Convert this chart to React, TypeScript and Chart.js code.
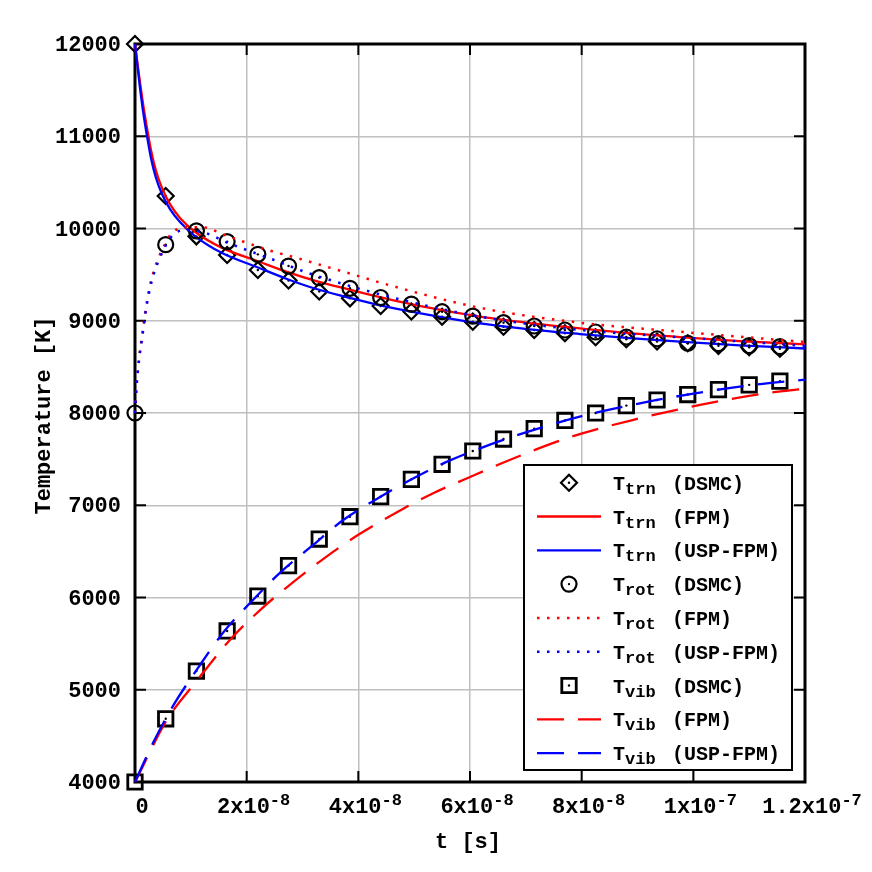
import React, { useEffect, useRef } from 'react';
import { Chart, registerables } from 'chart.js';

Chart.register(...registerables);

const MONO = "'Liberation Mono', 'Courier New', monospace";

// axis ticks
const xTicks = [0, 2e-8, 4e-8, 6e-8, 8e-8, 1e-7, 1.2e-7];
const xTickBase = ['0', '2x10', '4x10', '6x10', '8x10', '1x10', '1.2x10'];
const xTickSup = ['', '-8', '-8', '-8', '-8', '-7', '-7'];
const yTicks = [4000, 5000, 6000, 7000, 8000, 9000, 10000, 11000, 12000];

// DSMC samples
const tDsmc = [0, 5.5e-9, 1.1e-8, 1.65e-8, 2.2e-8, 2.75e-8, 3.3e-8, 3.85e-8, 4.4e-8, 4.95e-8, 5.5e-8, 6.05e-8, 6.6e-8, 7.15e-8, 7.7e-8, 8.25e-8, 8.8e-8, 9.35e-8, 9.9e-8, 1.045e-7, 1.1e-7, 1.155e-7];
const trnDsmc = [12000, 10352, 9915, 9713, 9550, 9436, 9318, 9243, 9160, 9100, 9044, 8990, 8935, 8900, 8864, 8821, 8800, 8775, 8756, 8728, 8712, 8697];
const rotDsmc = [8000, 9825, 9975, 9858, 9720, 9593, 9467, 9352, 9252, 9180, 9098, 9051, 8979, 8943, 8900, 8878, 8824, 8805, 8756, 8751, 8730, 8719];
const vibDsmc = [4000, 4685, 5203, 5637, 6016, 6345, 6634, 6876, 7093, 7281, 7444, 7588, 7718, 7830, 7919, 8000, 8080, 8141, 8200, 8254, 8305, 8346];

// T_trn curves
const tTrn = [0, 3.6e-10, 9.0e-10, 1.52e-9, 2.15e-9, 2.86e-9, 3.76e-9, 4.83e-9, 6.27e-9, 8.06e-9, 1.074e-8, 1.56e-8, 2.18e-8, 2.72e-8, 3.25e-8, 3.79e-8, 4.33e-8, 5.19e-8, 6.18e-8, 7.07e-8, 7.97e-8, 8.86e-8, 9.76e-8, 1.083e-7, 1.2e-7];
const trnFpm = [12000, 11830, 11580, 11320, 11090, 10850, 10625, 10440, 10265, 10115, 9965, 9790, 9650, 9530, 9430, 9345, 9265, 9150, 9044, 8975, 8918, 8865, 8823, 8780, 8745];
const trnUsp = [12000, 11805, 11523, 11241, 11003, 10764, 10547, 10374, 10211, 10070, 9918, 9734, 9583, 9453, 9344, 9257, 9176, 9073, 8972, 8907, 8856, 8811, 8773, 8734, 8699];

// T_rot curves
const tRotFpm = [0, 2.7e-10, 7.2e-10, 1.25e-9, 1.88e-9, 2.6e-9, 3.4e-9, 4.3e-9, 5.37e-9, 6.27e-9, 7.47e-9, 8.65e-9, 1.22e-8, 1.58e-8, 2.0e-8, 2.42e-8, 2.9e-8, 3.43e-8, 3.97e-8, 4.44e-8, 6.18e-8, 7.97e-8, 9.76e-8, 1.2e-7];
const rotFpm = [8000, 8290, 8590, 8830, 9110, 9360, 9545, 9695, 9830, 9925, 9990, 10013, 10013, 9935, 9845, 9760, 9680, 9586, 9490, 9405, 9140, 8979, 8881, 8770];
const tRotUsp = [0, 2.7e-10, 7.2e-10, 1.25e-9, 1.88e-9, 2.6e-9, 3.4e-9, 4.3e-9, 5.37e-9, 6.27e-9, 7.47e-9, 8.65e-9, 1.28e-8, 1.64e-8, 2.0e-8, 2.49e-8, 3.02e-8, 3.61e-8, 4.09e-8, 5.1e-8, 6.18e-8, 7.97e-8, 9.76e-8, 1.2e-7];
const rotUsp = [8000, 8280, 8570, 8800, 9080, 9330, 9515, 9660, 9800, 9893, 9960, 9983, 9947, 9850, 9767, 9659, 9535, 9420, 9335, 9180, 9044, 8900, 8821, 8728];

// T_vib curves
const tVibFpm = [0, 5.68e-9, 1.11e-8, 1.7e-8, 2.27e-8, 2.8e-8, 3.4e-8, 4.0e-8, 4.66e-8, 5.34e-8, 5.94e-8, 6.71e-8, 7.73e-8, 8.91e-8, 1.012e-7, 1.131e-7, 1.2e-7];
const vibFpm = [4000, 4670, 5100, 5540, 5880, 6150, 6430, 6680, 6914, 7130, 7290, 7490, 7726, 7924, 8087, 8214, 8262];
const tVibUsp = [0, 3.28e-9, 6.86e-9, 1.11e-8, 1.58e-8, 2.06e-8, 2.6e-8, 3.19e-8, 3.73e-8, 4.39e-8, 4.98e-8, 5.58e-8, 6.18e-8, 7.0e-8, 8.0e-8, 9.0e-8, 1.0e-7, 1.1e-7, 1.2e-7];
const vibUsp = [4000, 4430, 4830, 5220, 5620, 5940, 6270, 6570, 6840, 7090, 7290, 7470, 7617, 7790, 7965, 8100, 8210, 8300, 8362];

// legend text
const legendSub = ['trn', 'trn', 'trn', 'rot', 'rot', 'rot', 'vib', 'vib', 'vib'];
const legendSrc = ['(DSMC)', '(FPM)', '(USP-FPM)', '(DSMC)', '(FPM)', '(USP-FPM)', '(DSMC)', '(FPM)', '(USP-FPM)'];

const RED = '#ff0000';
const BLUE = '#0000ff';
const DOT = [2.5, 7.5];
const DASH = [27, 14];

const pts = (t: number[], v: number[]) => t.map((x, i) => ({ x, y: v[i] }));

type Kind = 'diamond' | 'circle' | 'square';
const MARKER: Record<number, Kind> = { 0: 'diamond', 3: 'circle', 6: 'square' };
const M_RADIUS: Record<Kind, number> = { diamond: 8, circle: 7.5, square: 10.2 };
const M_WIDTH: Record<Kind, number> = { diamond: 2.2, circle: 2.2, square: 2.8 };

function markerDs(t: number[], v: number[], kind: Kind, i: number) {
  const style = kind === 'diamond' ? 'rectRot' : kind === 'circle' ? 'circle' : 'rect';
  return {
    data: pts(t, v),
    showLine: false,
    pointStyle: style,
    pointRadius: M_RADIUS[kind],
    pointBorderWidth: M_WIDTH[kind],
    pointBorderColor: '#000',
    pointBackgroundColor: 'rgba(0,0,0,0)',
    clip: false as any,
    order: 8 - i,
  };
}

function lineDs(t: number[], v: number[], color: string, dash: number[], i: number) {
  return {
    data: pts(t, v),
    borderColor: color,
    borderWidth: dash === DOT ? 2.5 : 2.3,
    borderDash: dash,
    pointRadius: 0,
    fill: false,
    cubicInterpolationMode: 'monotone' as const,
    clip: false as any,
    order: 8 - i,
  };
}

function drawMarker(ctx: CanvasRenderingContext2D, kind: Kind, x: number, y: number) {
  ctx.save();
  ctx.strokeStyle = '#000';
  ctx.lineWidth = M_WIDTH[kind];
  ctx.beginPath();
  const r = M_RADIUS[kind];
  if (kind === 'diamond') {
    ctx.moveTo(x, y - r);
    ctx.lineTo(x + r, y);
    ctx.lineTo(x, y + r);
    ctx.lineTo(x - r, y);
    ctx.closePath();
  } else if (kind === 'circle') {
    ctx.arc(x, y, r, 0, Math.PI * 2);
  } else {
    const h = r * Math.SQRT1_2;
    ctx.rect(x - h, y - h, 2 * h, 2 * h);
  }
  ctx.stroke();
  ctx.fillStyle = '#000';
  ctx.beginPath();
  ctx.arc(x, y, 1.2, 0, Math.PI * 2);
  ctx.fill();
  ctx.restore();
}

const figurePlugin = {
  id: 'figure',
  beforeDatasetsDraw(chart: any) {
    const { ctx, chartArea: a, scales } = chart;
    const x = scales.x, y = scales.y;
    ctx.save();
    ctx.strokeStyle = '#000';
    ctx.lineWidth = 2;
    ctx.beginPath();
    for (const v of xTicks) {
      const px = x.getPixelForValue(v);
      ctx.moveTo(px, a.bottom); ctx.lineTo(px, a.bottom - 11);
      ctx.moveTo(px, a.top); ctx.lineTo(px, a.top + 11);
    }
    for (const v of yTicks) {
      const py = y.getPixelForValue(v);
      ctx.moveTo(a.left, py); ctx.lineTo(a.left + 11, py);
      ctx.moveTo(a.right, py); ctx.lineTo(a.right - 11, py);
    }
    ctx.stroke();
    ctx.lineWidth = 3;
    ctx.strokeRect(a.left, a.top, a.right - a.left, a.bottom - a.top);
    ctx.restore();
  },
  afterDatasetDraw(chart: any, args: any) {
    const kind = MARKER[args.index];
    if (!kind) return;
    const ctx = chart.ctx;
    ctx.save();
    ctx.fillStyle = '#000';
    for (const el of args.meta.data) {
      ctx.beginPath();
      ctx.arc(el.x, el.y, 1.2, 0, Math.PI * 2);
      ctx.fill();
    }
    ctx.restore();
  },
  afterDraw(chart: any) {
    const { ctx, chartArea: a, scales } = chart;
    const x = scales.x, y = scales.y;
    ctx.save();
    ctx.fillStyle = '#000';
    // y tick labels
    ctx.font = `bold 22px ${MONO}`;
    ctx.textAlign = 'right';
    ctx.textBaseline = 'middle';
    for (const v of yTicks) {
      ctx.fillText(String(v), a.left - 14, y.getPixelForValue(v) + 1.5);
    }
    // x tick labels with superscripts
    ctx.textAlign = 'left';
    ctx.textBaseline = 'alphabetic';
    const baseFont = `bold 22px ${MONO}`;
    const supFont = `bold 17px ${MONO}`;
    xTicks.forEach((v, i) => {
      ctx.font = baseFont;
      const wb = ctx.measureText(xTickBase[i]).width;
      ctx.font = supFont;
      const ws = xTickSup[i] ? ctx.measureText(xTickSup[i]).width : 0;
      const left = x.getPixelForValue(v) + 7 - (wb + ws) / 2;
      ctx.font = baseFont;
      ctx.fillText(xTickBase[i], left, a.bottom + 31);
      if (xTickSup[i]) {
        ctx.font = supFont;
        ctx.fillText(xTickSup[i], left + wb, a.bottom + 23);
      }
    });
    // axis titles
    ctx.font = `bold 22px ${MONO}`;
    ctx.textAlign = 'center';
    ctx.textBaseline = 'middle';
    ctx.fillText('t [s]', 468, 842);
    ctx.save();
    ctx.translate(44, 415.5);
    ctx.rotate(-Math.PI / 2);
    ctx.fillText('Temperature [K]', 0, 0);
    ctx.restore();

    // legend
    const bx = 524, by = 465, bw = 268, bh = 305;
    ctx.fillStyle = '#fff';
    ctx.fillRect(bx, by, bw, bh);
    ctx.strokeStyle = '#000';
    ctx.lineWidth = 2;
    ctx.strokeRect(bx, by, bw, bh);
    const ds = chart.data.datasets;
    for (let i = 0; i < 9; i++) {
      const yc = 482.7 + i * 33.8;
      const kind = MARKER[i];
      if (kind) {
        drawMarker(ctx, kind, 569, yc);
      } else {
        ctx.save();
        ctx.strokeStyle = ds[i].borderColor;
        ctx.lineWidth = ds[i].borderWidth;
        ctx.setLineDash(ds[i].borderDash || []);
        ctx.beginPath();
        ctx.moveTo(537, yc);
        ctx.lineTo(601, yc);
        ctx.stroke();
        ctx.restore();
      }
      ctx.fillStyle = '#000';
      ctx.textAlign = 'left';
      ctx.textBaseline = 'alphabetic';
      ctx.font = `bold 20px ${MONO}`;
      ctx.fillText('T', 613, yc + 7);
      ctx.font = `bold 17px ${MONO}`;
      ctx.fillText(legendSub[i], 625, yc + 11);
      ctx.font = `bold 20px ${MONO}`;
      ctx.fillText(legendSrc[i], 672, yc + 7);
    }
    ctx.restore();
  },
};

export default function App() {
  const ref = useRef<HTMLCanvasElement>(null);
  useEffect(() => {
    const datasets: any[] = [
      markerDs(tDsmc, trnDsmc, 'diamond', 0),
      lineDs(tTrn, trnFpm, RED, [], 1),
      lineDs(tTrn, trnUsp, BLUE, [], 2),
      markerDs(tDsmc, rotDsmc, 'circle', 3),
      lineDs(tRotFpm, rotFpm, RED, DOT, 4),
      lineDs(tRotUsp, rotUsp, BLUE, DOT, 5),
      markerDs(tDsmc, vibDsmc, 'square', 6),
      lineDs(tVibFpm, vibFpm, RED, DASH, 7),
      lineDs(tVibUsp, vibUsp, BLUE, DASH, 8),
    ];
    const chart = new Chart(ref.current as HTMLCanvasElement, {
      type: 'line',
      data: { datasets },
      options: {
        animation: false,
        responsive: false,
        devicePixelRatio: 1,
        layout: { padding: { left: 135, top: 44, right: 67, bottom: 90 } },
        plugins: { legend: { display: false }, tooltip: { enabled: false } },
        scales: {
          x: {
            type: 'linear',
            min: 0,
            max: 1.2e-7,
            afterBuildTicks: (s: any) => { s.ticks = xTicks.map((value) => ({ value })); },
            ticks: { display: false },
            grid: { color: '#c0c0c0', lineWidth: 1.5, drawTicks: false },
            border: { display: false },
          },
          y: {
            type: 'linear',
            min: 4000,
            max: 12000,
            afterBuildTicks: (s: any) => { s.ticks = yTicks.map((value) => ({ value })); },
            ticks: { display: false },
            grid: { color: '#c0c0c0', lineWidth: 1.5, drawTicks: false },
            border: { display: false },
          },
        },
      } as any,
      plugins: [figurePlugin as any],
    });
    return () => chart.destroy();
  }, []);
  return (
    <div style={{ position: 'absolute', left: 0, top: 0, width: 872, height: 872, background: '#fff' }}>
      <canvas ref={ref} width={872} height={872} style={{ display: 'block', width: 872, height: 872 }} />
    </div>
  );
}
